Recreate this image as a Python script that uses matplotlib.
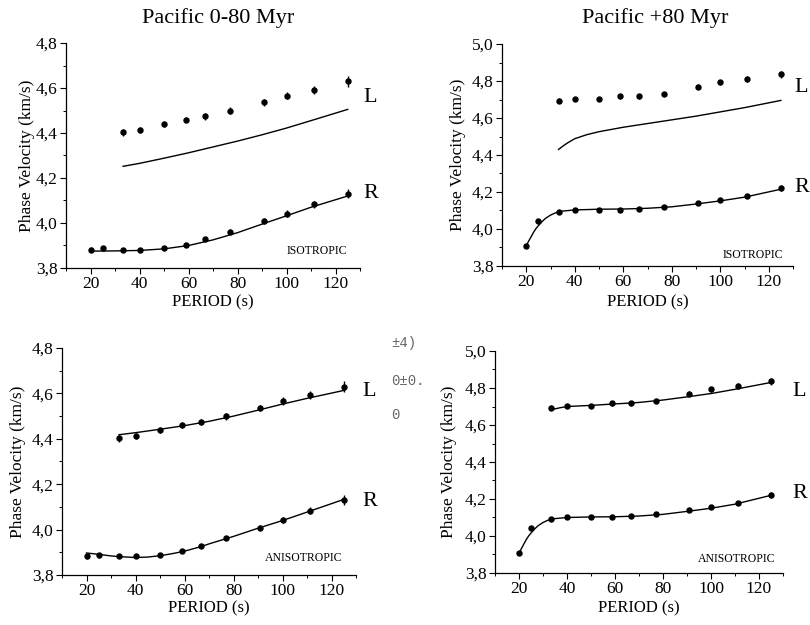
import matplotlib
matplotlib.use("Agg")
import matplotlib.pyplot as plt
from matplotlib.ticker import MultipleLocator, FuncFormatter

plt.rcParams['font.family'] = ['Liberation Serif', 'DejaVu Serif']

# ---------------- data ----------------
period = [20, 25, 33.3, 40, 50, 58.8, 66.7, 76.9, 90.9, 100, 111.1, 125]
period_L = [33.3, 40, 50, 58.8, 66.7, 76.9, 90.9, 100, 111.1, 125]

# Pacific 0-80 Myr observed
L_young = [4.403, 4.413, 4.440, 4.460, 4.474, 4.500, 4.536, 4.566, 4.592, 4.630]
L_young_err = [0.015, 0.013, 0.013, 0.013, 0.015, 0.015, 0.015, 0.017, 0.018, 0.024]
R_young = [3.882, 3.887, 3.882, 3.882, 3.890, 3.904, 3.928, 3.962, 4.009, 4.042, 4.084, 4.131]
R_young_err = [0.012, 0.010, 0.008, 0.008, 0.008, 0.008, 0.009, 0.010, 0.012, 0.014, 0.016, 0.022]

# Pacific +80 Myr observed
L_old = [4.694, 4.702, 4.703, 4.717, 4.717, 4.730, 4.769, 4.794, 4.812, 4.836]
L_old_err = [0.012, 0.012, 0.012, 0.012, 0.012, 0.013, 0.013, 0.014, 0.015, 0.018]
R_old = [3.906, 4.042, 4.093, 4.102, 4.103, 4.102, 4.110, 4.119, 4.143, 4.156, 4.179, 4.223]
R_old_err = [0.004, 0.004, 0.005, 0.005, 0.005, 0.005, 0.005, 0.006, 0.007, 0.008, 0.009, 0.015]

# model curves
p_Liso_y = [33.3, 40, 50, 60, 70, 80, 90, 100, 110, 125]
Liso_y = [4.252, 4.265, 4.288, 4.312, 4.338, 4.364, 4.392, 4.422, 4.455, 4.505]
p_Riso_y = [20, 30, 40, 50, 60, 70, 80, 90, 100, 110, 125]
Riso_y = [3.875, 3.876, 3.878, 3.885, 3.900, 3.925, 3.957, 3.995, 4.032, 4.070, 4.120]

p_Liso_o = [33.3, 35, 37, 40, 45, 50, 60, 70, 80, 90, 100, 110, 125]
Liso_o = [4.430, 4.447, 4.465, 4.488, 4.510, 4.526, 4.550, 4.570, 4.590, 4.610, 4.633, 4.656, 4.695]
p_Riso_o = [20, 21, 22, 23, 24, 25, 26.5, 28, 30, 32, 35, 40, 50, 60, 70, 80, 90, 100, 110, 125]
Riso_o = [3.909, 3.935, 3.958, 3.982, 4.002, 4.018, 4.040, 4.058, 4.075, 4.087, 4.097, 4.103,
          4.107, 4.108, 4.112, 4.120, 4.135, 4.152, 4.172, 4.215]

p_Lani_y = [33.3, 40, 50, 60, 70, 80, 90, 100, 110, 125]
Lani_y = [4.418, 4.427, 4.442, 4.458, 4.477, 4.500, 4.526, 4.553, 4.578, 4.613]
p_Rani_y = [20, 25, 30, 33.3, 40, 45, 50, 55, 60, 66.7, 70, 80, 90, 100, 110, 125]
Rani_y = [3.897, 3.891, 3.884, 3.881, 3.877, 3.879, 3.885, 3.894, 3.905, 3.925, 3.937,
          3.970, 4.006, 4.040, 4.077, 4.133]

p_Lani_o = [33.3, 35, 37, 40, 50, 60, 66.7, 70, 80, 90, 100, 110, 125]
Lani_o = [4.692, 4.687, 4.693, 4.700, 4.706, 4.714, 4.719, 4.722, 4.735, 4.752, 4.770, 4.793, 4.830]
p_Rani_o = [20, 21, 22, 23, 24, 25, 26.5, 28, 30, 32, 35, 40, 50, 60, 70, 80, 90, 100, 110, 125]
Rani_o = [3.905, 3.932, 3.956, 3.980, 4.000, 4.016, 4.038, 4.056, 4.073, 4.085, 4.094, 4.100,
          4.103, 4.104, 4.108, 4.117, 4.133, 4.150, 4.172, 4.220]

titles = ["Pacific 0-80 Myr", "Pacific +80 Myr"]
xticks = [20, 40, 60, 80, 100, 120]

# ---------------- figure ----------------
W, H = 810, 625
fig = plt.figure(figsize=(W / 100, H / 100), dpi=100)


def px_axes(l, t, r, b):
    return fig.add_axes([l / W, 1 - b / H, (r - l) / W, (b - t) / H])


def ftxt(x, y, s, **kw):
    fig.text(x / W, 1 - y / H, s, **kw)


comma = FuncFormatter(lambda v, pos: f"{v:.1f}".replace('.', ','))

panels = [
    dict(box=(66, 43, 360, 268), ylim=(3.8, 4.8), L=L_young, Le=L_young_err, R=R_young, Re=R_young_err,
         cL=(p_Liso_y, Liso_y), cR=(p_Riso_y, Riso_y), tag="ISOTROPIC", tagpos=(347, 251),
         xlab_y=302, ylab_x=27),
    dict(box=(502, 44, 793, 266), ylim=(3.8, 5.0), L=L_old, Le=L_old_err, R=R_old, Re=R_old_err,
         cL=(p_Liso_o, Liso_o), cR=(p_Riso_o, Riso_o), tag="ISOTROPIC", tagpos=(783, 255),
         xlab_y=302, ylab_x=458),
    dict(box=(62, 348, 356, 575), ylim=(3.8, 4.8), L=L_young, Le=L_young_err, R=R_young, Re=R_young_err,
         cL=(p_Lani_y, Lani_y), cR=(p_Rani_y, Rani_y), tag="ANISOTROPIC", tagpos=(342, 558),
         xlab_y=608, ylab_x=18),
    dict(box=(495, 351, 783, 573), ylim=(3.8, 5.0), L=L_old, Le=L_old_err, R=R_old, Re=R_old_err,
         cL=(p_Lani_o, Lani_o), cR=(p_Rani_o, Rani_o), tag="ANISOTROPIC", tagpos=(775, 559),
         xlab_y=608, ylab_x=449),
]

for i, pnl in enumerate(panels):
    ax = px_axes(*pnl['box'])
    ax.set_xlim(10, 130)
    ax.set_ylim(*pnl['ylim'])
    for s in ['top', 'right']:
        ax.spines[s].set_visible(False)
    for s in ['left', 'bottom']:
        ax.spines[s].set_linewidth(0.9)
    ax.set_xticks(xticks)
    ax.xaxis.set_minor_locator(MultipleLocator(10))
    ax.yaxis.set_major_locator(MultipleLocator(0.2))
    ax.yaxis.set_minor_locator(MultipleLocator(0.1))
    ax.yaxis.set_major_formatter(comma)
    ax.tick_params(which='major', direction='out', length=4, width=0.8, labelsize=12.5, pad=2)
    ax.tick_params(which='minor', direction='out', length=2.5, width=0.7)

    ax.plot(*pnl['cL'], color='black', lw=1.0)
    ax.plot(*pnl['cR'], color='black', lw=1.0)
    ax.errorbar(period_L, pnl['L'], yerr=pnl['Le'], fmt='o', color='black', ms=3.6,
                elinewidth=1.0, capsize=0)
    ax.errorbar(period, pnl['R'], yerr=pnl['Re'], fmt='o', color='black', ms=3.6,
                elinewidth=1.0, capsize=0)

    l, t, r, b = pnl['box']
    ax.set_xlabel("PERIOD (s)", fontsize=12)
    ax.xaxis.set_label_coords(0.5, -(pnl['xlab_y'] - b) / (b - t))
    ax.xaxis.label.set_va('center')
    ax.set_ylabel("Phase Velocity (km/s)", fontsize=12.5)
    ax.yaxis.set_label_coords(-(l - pnl['ylab_x']) / (r - l), 0.5)
    ax.yaxis.label.set_va('center')

    ftxt(pnl['tagpos'][0], pnl['tagpos'][1], pnl['tag'], fontsize=8.5, ha='right', va='center')

# titles
ftxt(218, 18, titles[0], fontsize=16, ha='center', va='center')
ftxt(655, 18, titles[1], fontsize=16, ha='center', va='center')

# L / R labels
for (x, y, s) in [(363, 98, "L"), (363, 193, "R"), (794, 88, "L"), (794, 188, "R"),
                  (362, 391, "L"), (362, 502, "R"), (792, 392, "L"), (792, 493, "R")]:
    ftxt(x, y, s, fontsize=16, ha='left', va='center')

# stray text fragments
for (x, y, s) in [(391, 343, "±4)"), (391, 381, "0±0."), (391, 415, "0")]:
    ftxt(x, y, s, fontsize=10, ha='left', va='center', color='#666666',
         family=['Liberation Mono', 'DejaVu Sans Mono'])

fig.savefig("out.png", dpi=100)
